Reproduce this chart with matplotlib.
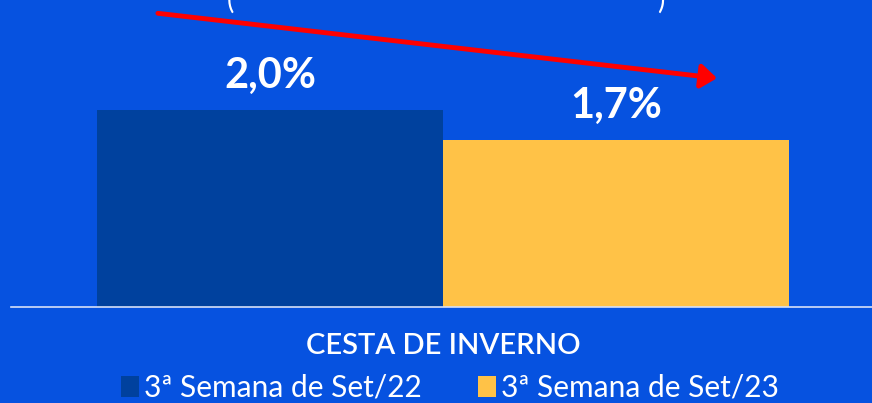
import numpy as np
import matplotlib
matplotlib.use("Agg")
import matplotlib.pyplot as plt
from matplotlib.patches import FancyArrowPatch, Patch

# dados
categoria = "CESTA DE INVERNO"
series = ["3ª Semana de Set/22", "3ª Semana de Set/23"]
valores = [2.0, 1.7]
rotulos = ["2,0%", "1,7%"]

fundo = "#0652e0"
cores = ["#00419e", "#ffc247"]

plt.rcParams["font.family"] = ["Lato", "DejaVu Sans"]

fig = plt.figure(figsize=(8.72, 4.03), dpi=100, facecolor=fundo)
# eixo em pixels: esquerda 11, direita 872, base 307 a partir do topo
ax = fig.add_axes([11 / 872, (403 - 307) / 403, 861 / 872, 307 / 403])
ax.set_facecolor(fundo)

x = np.arange(len(valores))
ax.bar(x, valores, width=1.0, color=cores, zorder=2)
ax.set_xlim(-0.7486, 1.7399)
ax.set_ylim(0, 307 / 98.5)

for xi, v, r in zip(x, valores, rotulos):
    ax.text(xi, v + 0.22, r, ha="center", va="baseline", color="white",
            fontsize=30, fontweight="bold")

for s in ["top", "left", "right"]:
    ax.spines[s].set_visible(False)
ax.spines["bottom"].set_color("#d6e0f8")
ax.spines["bottom"].set_linewidth(1.2)
ax.set_yticks([])
ax.set_xticks([0.5])
ax.set_xticklabels([categoria], color="white", fontsize=21, fontweight="semibold")
ax.tick_params(axis="x", length=0, pad=19)

# seta de queda
seta = FancyArrowPatch((-0.332, 2.985), (1.30, 2.32), arrowstyle="-|>,head_length=6,head_width=4.5",
                       color="#ff0000", lw=3.5, mutation_scale=1.6, zorder=3)
ax.add_patch(seta)

# titulo cortado no topo
fig.text(230 / 872, 1.0, "(", color="white", fontsize=20, ha="center", va="center")
fig.text(661 / 872, 1.0, ")", color="white", fontsize=20, ha="center", va="center")

alcas = [Patch(facecolor=c, edgecolor="none") for c in cores]
leg = fig.legend(alcas, series, loc="center", bbox_to_anchor=(0.516, 15 / 403), ncol=2,
                 frameon=False, handlelength=0.6, handleheight=0.7,
                 handletextpad=0.15, columnspacing=1.9, borderpad=0.1,
                 prop={"family": ["Lato", "DejaVu Sans"], "size": 21.5})
for t in leg.get_texts():
    t.set_color("white")

fig.savefig("out.png", dpi=100, facecolor=fundo)
